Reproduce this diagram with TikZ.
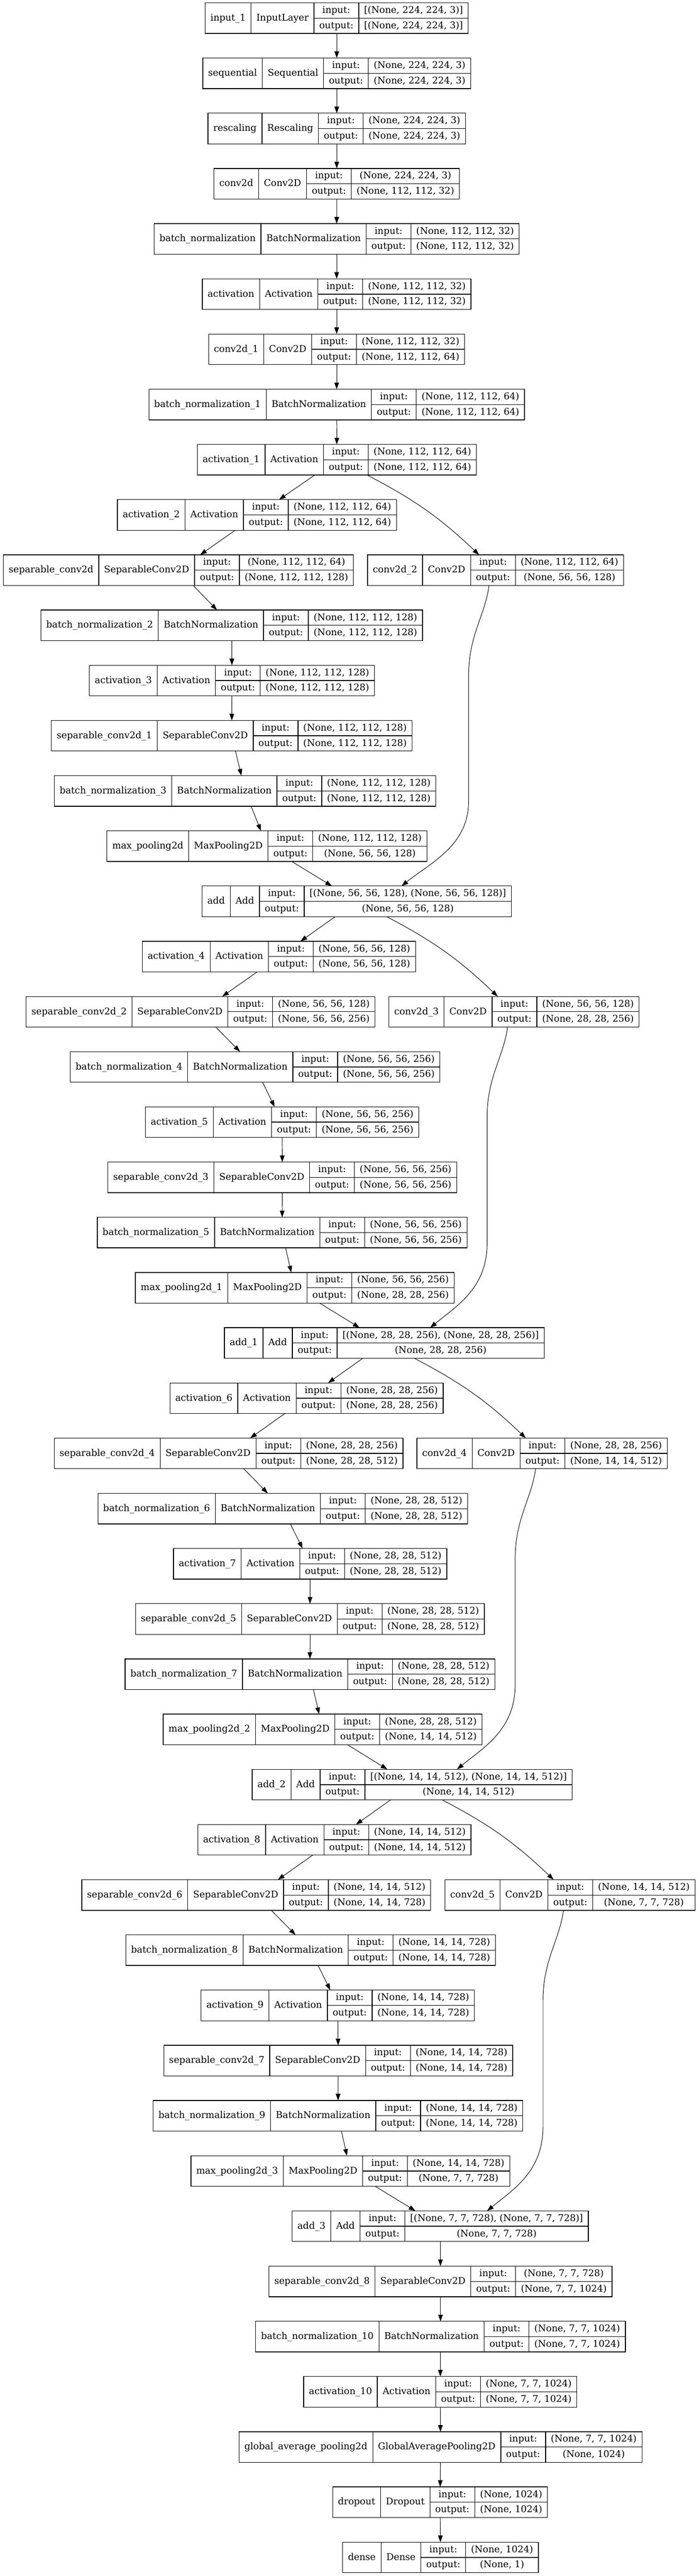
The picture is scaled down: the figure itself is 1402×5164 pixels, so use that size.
\documentclass[tikz,border=0pt]{standalone}
\usepackage{fontspec}
\setmainfont{DejaVu Serif}
\usetikzlibrary{arrows.meta,calc}
\newcommand\lfont{\fontsize{14pt}{17pt}\selectfont}
\newlength\lwA \newlength\lwB \newlength\lwC \newlength\lwD \newlength\lwE
\newlength\lwX \newlength\lwT \newlength\lwP \newlength\lwQ
\newcommand\mw[2]{\pgfinterruptpicture\settowidth\lwX{\fontsize{5pt}{6pt}\selectfont\lfont #2}\global#1=\lwX\endpgfinterruptpicture}
\tikzset{
  layerbox/.style={draw, line width=1pt, rectangle, inner sep=0pt, outer sep=0pt, minimum height=46pt},
  cellln/.style={line width=1pt},
  lbl/.style={font=\lfont, inner sep=0pt, text height=11pt, text depth=3pt},
  conn/.style={line width=0.75pt, -{Triangle[length=10pt,width=7pt]}}
}
% #1 name, #2 centre x (px), #3 row, #4 layer name, #5 class, #6 input shape, #7 output shape
\newcommand\layer[7]{%
  \mw\lwA{#4}\global\advance\lwA by 16pt
  \mw\lwB{#5}\global\advance\lwB by 16pt
  \mw\lwC{output:}\global\advance\lwC by 16pt
  \mw\lwD{#6}\mw\lwE{#7}%
  \ifdim\lwE>\lwD \global\lwD=\lwE\fi
  \global\advance\lwD by 16pt
  \global\lwP=\lwA \global\advance\lwP by \lwB
  \global\lwQ=\lwP \global\advance\lwQ by \lwC
  \global\lwT=\lwQ \global\advance\lwT by \lwD
  \node[layerbox, minimum width=\lwT] (#1) at (#2, {36.35+110.66*#3}) {};
  \draw[cellln] ([xshift=\lwA]#1.north west) -- ([xshift=\lwA]#1.south west);
  \draw[cellln] ([xshift=\lwP]#1.north west) -- ([xshift=\lwP]#1.south west);
  \draw[cellln] ([xshift=\lwQ]#1.north west) -- ([xshift=\lwQ]#1.south west);
  \draw[cellln] ([xshift=\lwP]#1.west) -- (#1.east);
  \node[lbl] (#1n) at ([xshift=0.5\lwA]#1.west) {#4};
  \node[lbl] (#1c) at ([xshift={\lwA+0.5\lwB}]#1.west) {#5};
  \node[lbl] (#1k) at ([xshift={\lwP+0.5\lwC}, yshift=11.5pt]#1.west) {input:};
  \node[lbl] (#1l) at ([xshift={\lwP+0.5\lwC}, yshift=-11.5pt]#1.west) {output:};
  \node[lbl] (#1i) at ([xshift={\lwQ+0.5\lwD}, yshift=11.5pt]#1.west) {#6};
  \node[lbl] (#1o) at ([xshift={\lwQ+0.5\lwD}, yshift=-11.5pt]#1.west) {#7};
}
% long skip: #1 conv node, #2 add node, #3 end offset
\newcommand\longskip[3]{%
  \coordinate (#1s) at ($(#1.south)+(-13,0)$);
  \coordinate (#1p) at ($(#1.south)+(-54,180)$);
  \coordinate (#1q) at ($(#1p |- #2.north)+(0,-170)$);
  \coordinate (#1e) at ($(#2.north)+(#3,0)$);
  \draw[conn] (#1s) .. controls +(-8,60) and +(0,-80) .. (#1p) -- (#1q)
     .. controls +(0,90) and +(55,-45) .. (#1e);
}
\begin{document}
\begin{tikzpicture}[x=0.75pt,y=-0.75pt]
\useasboundingbox (0,0) rectangle (1402,5164);
\layer{in1}{675.7}{0}{input\_1}{InputLayer}{[(None, 224, 224, 3)]}{[(None, 224, 224, 3)]}
\layer{seq}{675.7}{1}{sequential}{Sequential}{(None, 224, 224, 3)}{(None, 224, 224, 3)}
\layer{resc}{675.7}{2}{rescaling}{Rescaling}{(None, 224, 224, 3)}{(None, 224, 224, 3)}
\layer{cz}{675.7}{3}{conv2d}{Conv2D}{(None, 224, 224, 3)}{(None, 112, 112, 32)}
\layer{bnz}{675.5}{4}{batch\_normalization}{BatchNormalization}{(None, 112, 112, 32)}{(None, 112, 112, 32)}
\layer{az}{675.5}{5}{activation}{Activation}{(None, 112, 112, 32)}{(None, 112, 112, 32)}
\layer{ca}{675.5}{6}{conv2d\_1}{Conv2D}{(None, 112, 112, 32)}{(None, 112, 112, 64)}
\layer{bna}{675.5}{7}{batch\_normalization\_1}{BatchNormalization}{(None, 112, 112, 64)}{(None, 112, 112, 64)}
\layer{aa}{676}{8}{activation\_1}{Activation}{(None, 112, 112, 64)}{(None, 112, 112, 64)}
\layer{ab}{515.5}{9}{activation\_2}{Activation}{(None, 112, 112, 64)}{(None, 112, 112, 64)}
\layer{sz}{358}{10}{separable\_conv2d}{SeparableConv2D}{(None, 112, 112, 64)}{(None, 112, 112, 128)}
\layer{cb}{994.3}{10}{conv2d\_2}{Conv2D}{(None, 112, 112, 64)}{(None, 56, 56, 128)}
\layer{bnb}{465}{11}{batch\_normalization\_2}{BatchNormalization}{(None, 112, 112, 128)}{(None, 112, 112, 128)}
\layer{ac}{465.4}{12}{activation\_3}{Activation}{(None, 112, 112, 128)}{(None, 112, 112, 128)}
\layer{sa}{465}{13}{separable\_conv2d\_1}{SeparableConv2D}{(None, 112, 112, 128)}{(None, 112, 112, 128)}
\layer{bnc}{491.8}{14}{batch\_normalization\_3}{BatchNormalization}{(None, 112, 112, 128)}{(None, 112, 112, 128)}
\layer{mpz}{535.6}{15}{max\_pooling2d}{MaxPooling2D}{(None, 112, 112, 128)}{(None, 56, 56, 128)}
\layer{adz}{715.8}{16}{add}{Add}{[(None, 56, 56, 128), (None, 56, 56, 128)]}{(None, 56, 56, 128)}
\layer{ad}{559.7}{17}{activation\_4}{Activation}{(None, 56, 56, 128)}{(None, 56, 56, 128)}
\layer{sb}{402.4}{18}{separable\_conv2d\_2}{SeparableConv2D}{(None, 56, 56, 128)}{(None, 56, 56, 256)}
\layer{cc}{1031.4}{18}{conv2d\_3}{Conv2D}{(None, 56, 56, 128)}{(None, 28, 28, 256)}
\layer{bnd}{511.9}{19}{batch\_normalization\_4}{BatchNormalization}{(None, 56, 56, 256)}{(None, 56, 56, 256)}
\layer{ae}{566}{20}{activation\_5}{Activation}{(None, 56, 56, 256)}{(None, 56, 56, 256)}
\layer{sc}{566.5}{21}{separable\_conv2d\_3}{SeparableConv2D}{(None, 56, 56, 256)}{(None, 56, 56, 256)}
\layer{bne}{566}{22}{batch\_normalization\_5}{BatchNormalization}{(None, 56, 56, 256)}{(None, 56, 56, 256)}
\layer{mpa}{591.5}{23}{max\_pooling2d\_1}{MaxPooling2D}{(None, 56, 56, 256)}{(None, 28, 28, 256)}
\layer{ada}{771.2}{24}{add\_1}{Add}{[(None, 28, 28, 256), (None, 28, 28, 256)]}{(None, 28, 28, 256)}
\layer{af}{615.2}{25}{activation\_6}{Activation}{(None, 28, 28, 256)}{(None, 28, 28, 256)}
\layer{sd}{458.7}{26}{separable\_conv2d\_4}{SeparableConv2D}{(None, 28, 28, 256)}{(None, 28, 28, 512)}
\layer{cd}{1087.7}{26}{conv2d\_4}{Conv2D}{(None, 28, 28, 256)}{(None, 14, 14, 512)}
\layer{bnf}{567.3}{27}{batch\_normalization\_6}{BatchNormalization}{(None, 28, 28, 512)}{(None, 28, 28, 512)}
\layer{ag}{622.3}{28}{activation\_7}{Activation}{(None, 28, 28, 512)}{(None, 28, 28, 512)}
\layer{se}{621.9}{29}{separable\_conv2d\_5}{SeparableConv2D}{(None, 28, 28, 512)}{(None, 28, 28, 512)}
\layer{bng}{621.9}{30}{batch\_normalization\_7}{BatchNormalization}{(None, 28, 28, 512)}{(None, 28, 28, 512)}
\layer{mpb}{647.3}{31}{max\_pooling2d\_2}{MaxPooling2D}{(None, 28, 28, 512)}{(None, 14, 14, 512)}
\layer{adb}{827}{32}{add\_2}{Add}{[(None, 14, 14, 512), (None, 14, 14, 512)]}{(None, 14, 14, 512)}
\layer{ah}{671}{33}{activation\_8}{Activation}{(None, 14, 14, 512)}{(None, 14, 14, 512)}
\layer{sf}{514.1}{34}{separable\_conv2d\_6}{SeparableConv2D}{(None, 14, 14, 512)}{(None, 14, 14, 728)}
\layer{ce}{1143.6}{34}{conv2d\_5}{Conv2D}{(None, 14, 14, 512)}{(None, 7, 7, 728)}
\layer{bnh}{623.2}{35}{batch\_normalization\_8}{BatchNormalization}{(None, 14, 14, 728)}{(None, 14, 14, 728)}
\layer{ai}{677.8}{36}{activation\_9}{Activation}{(None, 14, 14, 728)}{(None, 14, 14, 728)}
\layer{sg}{678.6}{37}{separable\_conv2d\_7}{SeparableConv2D}{(None, 14, 14, 728)}{(None, 14, 14, 728)}
\layer{bni}{678.2}{38}{batch\_normalization\_9}{BatchNormalization}{(None, 14, 14, 728)}{(None, 14, 14, 728)}
\layer{mpc}{703}{39}{max\_pooling2d\_3}{MaxPooling2D}{(None, 14, 14, 728)}{(None, 7, 7, 728)}
\layer{adc}{883.4}{40}{add\_3}{Add}{[(None, 7, 7, 728), (None, 7, 7, 728)]}{(None, 7, 7, 728)}
\layer{sh}{883.9}{41}{separable\_conv2d\_8}{SeparableConv2D}{(None, 7, 7, 728)}{(None, 7, 7, 1024)}
\layer{bnj}{883.9}{42}{batch\_normalization\_10}{BatchNormalization}{(None, 7, 7, 1024)}{(None, 7, 7, 1024)}
\layer{aj}{883.4}{43}{activation\_10}{Activation}{(None, 7, 7, 1024)}{(None, 7, 7, 1024)}
\layer{gap}{883.9}{44}{global\_average\_pooling2d}{GlobalAveragePooling2D}{(None, 7, 7, 1024)}{(None, 1024)}
\layer{drop}{883}{45}{dropout}{Dropout}{(None, 1024)}{(None, 1024)}
\layer{dense}{883.9}{46}{dense}{Dense}{(None, 1024)}{(None, 1)}
% straight connectors
\foreach \a/\b in {in1/seq, seq/resc, resc/cz, cz/bnz, bnz/az, az/ca, ca/bna, bna/aa,
  aa/ab, ab/sz, sz/bnb, bnb/ac, ac/sa, sa/bnc, bnc/mpz, mpz/adz,
  adz/ad, ad/sb, sb/bnd, bnd/ae, ae/sc, sc/bne, bne/mpa, mpa/ada,
  ada/af, af/sd, sd/bnf, bnf/ag, ag/se, se/bng, bng/mpb, mpb/adb,
  adb/ah, ah/sf, sf/bnh, bnh/ai, ai/sg, sg/bni, bni/mpc, mpc/adc,
  adc/sh, sh/bnj, bnj/aj, aj/gap, gap/drop, drop/dense}
  {\draw[conn] (\a) -- (\b);}
% short skip connectors
\draw[conn] (aa) to[bend left=8] (cb);
\draw[conn] (adz) to[bend left=8] (cc);
\draw[conn] (ada) to[bend left=8] (cd);
\draw[conn] (adb) to[bend left=8] (ce);
% long skip connectors
\longskip{cb}{adz}{90}
\longskip{cc}{ada}{92}
\longskip{cd}{adb}{90}
\longskip{ce}{adc}{94}
\end{tikzpicture}
\end{document}
